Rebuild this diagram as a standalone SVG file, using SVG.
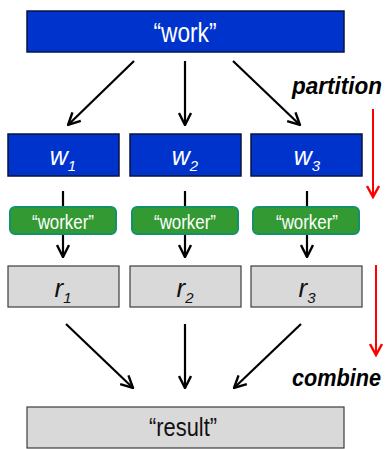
<svg xmlns="http://www.w3.org/2000/svg" width="391" height="449" viewBox="0 0 391 449">
  <defs>
    <marker id="head" viewBox="0 0 14 14" refX="13" refY="7" markerWidth="14" markerHeight="14" markerUnits="userSpaceOnUse" orient="auto">
      <path d="M1,1 L13,7 L1,13" fill="none" stroke="#000" stroke-width="2.4" stroke-linejoin="miter"/>
    </marker>
    <marker id="redhead" viewBox="0 0 14 14" refX="12" refY="7" markerWidth="14" markerHeight="14" markerUnits="userSpaceOnUse" orient="auto">
      <path d="M1,1 L12,7 L1,13" fill="none" stroke="#ff0000" stroke-width="2.4"/>
    </marker>
    <style>
      .blue { fill: #0033cc; stroke: #0a1440; stroke-width: 1.5; }
      .grey { fill: #d9d9d9; stroke: #3c3c3c; stroke-width: 1.2; }
      .green { fill: #339933; stroke: #13906c; stroke-width: 2; }
      .lbl { font-family: "Liberation Sans", Arial, sans-serif; text-anchor: middle; }
      .wt { fill: #ffffff; }
      .kt { fill: #111111; }
      .it { font-style: italic; }
      .side { font-family: "Liberation Sans", Arial, sans-serif; font-weight: bold; font-style: italic; font-size: 23px; fill: #000; }
      .edge { stroke: #000; stroke-width: 2.2; fill: none; marker-end: url(#head); }
      .red { stroke: #ff0000; stroke-width: 2; fill: none; marker-end: url(#redhead); }
    </style>
  </defs>

  <!-- connectors -->
  <g id="connectors">
    <line class="edge" x1="134" y1="61" x2="68" y2="125"/>
    <line class="edge" x1="185" y1="61" x2="185" y2="125"/>
    <line class="edge" x1="233" y1="61" x2="300" y2="125"/>

    <line class="edge" x1="63" y1="191" x2="63" y2="257"/>
    <line class="edge" x1="185" y1="191" x2="185" y2="257"/>
    <line class="edge" x1="307" y1="191" x2="307" y2="257"/>

    <line class="edge" x1="66" y1="324" x2="133" y2="388"/>
    <line class="edge" x1="185" y1="324" x2="185" y2="388"/>
    <line class="edge" x1="301" y1="324" x2="234" y2="388"/>

    <line class="red" x1="373" y1="109" x2="373" y2="197"/>
    <line class="red" x1="376" y1="265" x2="376" y2="355"/>
  </g>

  <!-- source -->
  <g id="work">
    <rect class="blue" x="27" y="11" width="317" height="41"/>
    <text class="lbl wt" x="185" y="42" font-size="28" textLength="63" lengthAdjust="spacingAndGlyphs">“work”</text>
  </g>

  <!-- partitions -->
  <g id="w1">
    <rect class="blue" x="8" y="134" width="111" height="42"/>
    <text class="lbl wt it" x="63" y="165" font-size="25">w<tspan font-size="15" dy="6">1</tspan></text>
  </g>
  <g id="w2">
    <rect class="blue" x="130" y="134" width="111" height="42"/>
    <text class="lbl wt it" x="185" y="165" font-size="25">w<tspan font-size="15" dy="6">2</tspan></text>
  </g>
  <g id="w3">
    <rect class="blue" x="251" y="134" width="111" height="42"/>
    <text class="lbl wt it" x="307" y="165" font-size="25">w<tspan font-size="15" dy="6">3</tspan></text>
  </g>

  <!-- workers -->
  <g id="worker1">
    <rect class="green" x="10" y="207" width="106" height="27" rx="5"/>
    <text class="lbl wt" x="63" y="229" font-size="20" textLength="62" lengthAdjust="spacingAndGlyphs">“worker”</text>
  </g>
  <g id="worker2">
    <rect class="green" x="132" y="207" width="106" height="27" rx="5"/>
    <text class="lbl wt" x="185" y="229" font-size="20" textLength="62" lengthAdjust="spacingAndGlyphs">“worker”</text>
  </g>
  <g id="worker3">
    <rect class="green" x="253" y="207" width="106" height="27" rx="5"/>
    <text class="lbl wt" x="307" y="229" font-size="20" textLength="62" lengthAdjust="spacingAndGlyphs">“worker”</text>
  </g>

  <!-- partial results -->
  <g id="r1">
    <rect class="grey" x="8" y="266" width="111" height="41"/>
    <text class="lbl kt it" x="63" y="297" font-size="26">r<tspan font-size="15" dy="6">1</tspan></text>
  </g>
  <g id="r2">
    <rect class="grey" x="130" y="266" width="111" height="41"/>
    <text class="lbl kt it" x="185" y="297" font-size="26">r<tspan font-size="15" dy="6">2</tspan></text>
  </g>
  <g id="r3">
    <rect class="grey" x="251" y="266" width="111" height="41"/>
    <text class="lbl kt it" x="307" y="297" font-size="26">r<tspan font-size="15" dy="6">3</tspan></text>
  </g>

  <!-- final result -->
  <g id="result">
    <rect class="grey" x="27" y="407" width="317" height="41"/>
    <text class="lbl kt" x="183" y="436" font-size="26" textLength="68" lengthAdjust="spacingAndGlyphs">“result”</text>
  </g>

  <!-- phase labels -->
  <text class="side" x="292" y="94" textLength="90" lengthAdjust="spacingAndGlyphs">partition</text>
  <text class="side" x="292" y="386" textLength="89" lengthAdjust="spacingAndGlyphs">combine</text>
</svg>
